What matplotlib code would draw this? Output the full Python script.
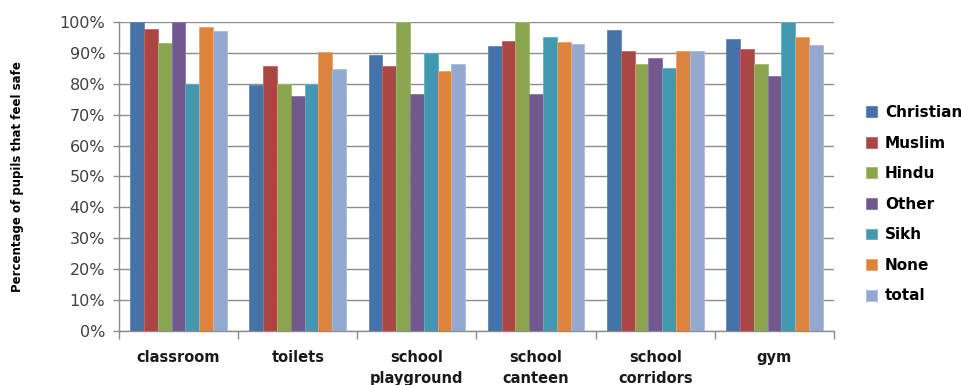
import numpy as np
import matplotlib
matplotlib.use("Agg")
import matplotlib.pyplot as plt
from matplotlib.patches import Patch
from matplotlib.ticker import FixedLocator, PercentFormatter

# Survey places and share of pupils who feel safe there, by religion
places = ["classroom", "toilets", "school\nplayground", "school\ncanteen",
          "school\ncorridors", "gym"]
groups = ["Christian", "Muslim", "Hindu", "Other", "Sikh", "None", "total"]

christian = [100.0, 79.5, 89.4, 92.3, 97.3, 94.6]
muslim    = [97.8, 85.7, 85.7, 93.9, 90.6, 91.4]
hindu     = [93.1, 80.0, 100.0, 100.0, 86.5, 86.5]
other     = [100.0, 76.2, 76.6, 76.6, 88.4, 82.4]
sikh      = [80.0, 80.0, 90.0, 95.0, 85.1, 100.0]
none      = [98.4, 90.4, 84.3, 93.6, 90.6, 95.0]
total     = [97.0, 84.8, 86.3, 92.9, 90.6, 92.4]

series = [christian, muslim, hindu, other, sikh, none, total]
colors = ["#4572A7", "#AA4643", "#89A54E", "#71588F", "#4198AF", "#DB843D", "#93A9CF"]
edges  = ["#5F86B8", "#C06865", "#A0BB6C", "#8A74A6", "#64AFC4", "#EFA066", "#AABBDC"]

fig = plt.figure(figsize=(9.61, 3.85), dpi=100)
ax = fig.add_axes([119 / 961, 1 - 331 / 385, (834 - 119) / 961, (331 - 22) / 385])

x = np.arange(len(places))
bw = 0.116
for i, (vals, c, ec) in enumerate(zip(series, colors, edges)):
    ax.bar(x + (i - 3) * bw, np.array(vals) / 100.0, width=bw, color=c,
           edgecolor=ec, linewidth=0.6, zorder=3, label=groups[i])

ax.set_xlim(-0.5, len(places) - 0.5)
ax.set_ylim(0, 1.0)

# y axis: percent ticks with horizontal gridlines
ax.yaxis.set_major_locator(FixedLocator(np.linspace(0, 1, 11)))
ax.yaxis.set_major_formatter(PercentFormatter(1.0, decimals=0))
ax.yaxis.grid(True, color="#8C8C8C", linewidth=1.0, zorder=0)
ax.tick_params(axis="y", direction="out", length=4, width=1, color="#8C8C8C",
               labelsize=11.5, labelcolor="#404040", pad=6)

# x axis: labels at group centres, tick marks on group boundaries
ax.set_xticks(x)
ax.set_xticklabels(places, fontsize=10.5, fontweight="bold", color="#1a1a1a",
                   linespacing=1.45)
ax.set_xticks(np.arange(-0.5, len(places), 1.0), minor=True)
ax.tick_params(axis="x", which="major", length=0, pad=14)
ax.tick_params(axis="x", which="minor", direction="out", length=6, width=1,
               color="#8C8C8C")

for side in ("top", "right"):
    ax.spines[side].set_visible(False)
for side in ("left", "bottom"):
    ax.spines[side].set_color("#8C8C8C")
    ax.spines[side].set_linewidth(1.0)

ax.set_ylabel("Percentage of pupils that feel safe", fontsize=8.5, fontweight="bold")
ax.yaxis.set_label_coords((24 - 119) / 715, 0.5)

handles = [Patch(facecolor=c, edgecolor=ec, linewidth=0.6) for c, ec in zip(colors, edges)]
fig.legend(handles, groups, loc="upper left",
           bbox_to_anchor=(866 / 961, 1 - 105 / 385), frameon=False,
           prop={"size": 11, "weight": "bold"}, handlelength=0.7, handleheight=0.7,
           handletextpad=0.55, labelspacing=1.02, borderpad=0, borderaxespad=0)

fig.savefig("out.png", dpi=100)
